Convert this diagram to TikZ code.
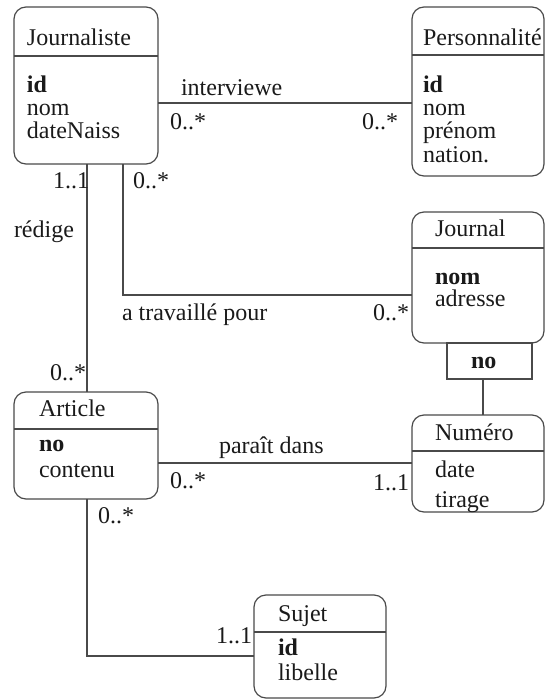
\documentclass[tikz,border=0pt]{standalone}
\usepackage{fontspec}
\setmainfont{Liberation Serif}
\definecolor{lc}{HTML}{4A4A4A}
\definecolor{tc}{HTML}{1A1A1A}
\begin{document}
\begin{tikzpicture}[x=1pt,y=-1pt,
  ent/.style={draw=lc, line width=1.2pt, rounded corners=12pt, inner sep=0pt, outer sep=0pt, anchor=north west},
  qualbox/.style={draw=lc, line width=1.2pt, inner sep=0pt, outer sep=0pt, anchor=north west},
  txt/.style={anchor=base west, inner sep=0pt, outer sep=0pt, font=\fontsize{24}{24}\selectfont, text=tc},
  ln/.style={draw=lc, line width=1.2pt}]
\useasboundingbox (0,0) rectangle (545,699);

% entities
\node[ent, minimum width=144pt, minimum height=157pt] (journ) at (14,7) {};
\node[ent, minimum width=132pt, minimum height=169pt] (perso) at (412,7) {};
\node[ent, minimum width=132pt, minimum height=131pt] (journal) at (412,212) {};
\node[ent, minimum width=132pt, minimum height=97pt] (numero) at (412,415) {};
\node[ent, minimum width=144pt, minimum height=107pt] (article) at (14,392) {};
\node[ent, minimum width=132pt, minimum height=103pt] (sujet) at (254,595) {};
\node[qualbox, minimum width=85pt, minimum height=36pt] (qual) at (447,343) {};

% header lines
\draw[ln] (journ.west |- 0,56) -- (journ.east |- 0,56);
\draw[ln] (perso.west |- 0,55) -- (perso.east |- 0,55);
\draw[ln] (journal.west |- 0,248) -- (journal.east |- 0,248);
\draw[ln] (numero.west |- 0,451) -- (numero.east |- 0,451);
\draw[ln] (article.west |- 0,429) -- (article.east |- 0,429);
\draw[ln] (sujet.west |- 0,632) -- (sujet.east |- 0,632);

% entity texts
\node[txt] (tJ) at (27,45) {Journaliste};
\node[txt] (tJ1) at (27,92) {\textbf{id}};
\node[txt] (tJ2) at (27,115) {nom};
\node[txt] (tJ3) at (27,138) {dateNaiss};

\node[txt] (tP) at (423,45) {Personnalité};
\node[txt] (tP1) at (423,92) {\textbf{id}};
\node[txt] (tP2) at (423,115) {nom};
\node[txt] (tP3) at (423,138) {prénom};
\node[txt] (tP4) at (423,162) {nation.};

\node[txt] (tN) at (435,236) {Journal};
\node[txt] (tN1) at (435,284) {\textbf{nom}};
\node[txt] (tN2) at (435,306) {adresse};

\node[txt] (tQ) at (471,368) {\textbf{no}};

\node[txt] (tU) at (435,440) {Numéro};
\node[txt] (tU1) at (435,477) {date};
\node[txt] (tU2) at (435,507) {tirage};

\node[txt] (tA) at (39,416) {Article};
\node[txt] (tA1) at (39,451) {\textbf{no}};
\node[txt] (tA2) at (39,477) {contenu};

\node[txt] (tS) at (278,621) {Sujet};
\node[txt] (tS1) at (278,655) {\textbf{id}};
\node[txt] (tS2) at (278,680) {libelle};

% connectors
\draw[ln] (journ.east |- 0,103) -- (perso.west |- 0,103);
\draw[ln] (journ.south -| 87,0) -- (article.north -| 87,0);
\draw[ln] (journ.south -| 123,0) |- (journal.west |- 0,295);
\draw[ln] (qual.south -| 483,0) -- (numero.north -| 483,0);
\draw[ln] (article.east |- 0,463) -- (numero.west |- 0,463);
\draw[ln] (article.south -| 87,0) |- (sujet.west |- 0,656);

% connector labels
\node[txt] (lInt) at (181,95) {interviewe};
\node[txt] (lInt1) at (170,129) {0..*};
\node[txt] (lInt2) at (362,129) {0..*};
\node[txt] (lRed0) at (53,188) {1..1};
\node[txt] (lTra0) at (133,188) {0..*};
\node[txt] (lRed) at (14,237) {rédige};
\node[txt] (lTra) at (122,320) {a travaillé pour};
\node[txt] (lTra1) at (373,320) {0..*};
\node[txt] (lRed1) at (50,380) {0..*};
\node[txt] (lPar) at (219,453) {paraît dans};
\node[txt] (lPar1) at (170,488) {0..*};
\node[txt] (lPar2) at (373,490) {1..1};
\node[txt] (lSuj0) at (98,523) {0..*};
\node[txt] (lSuj1) at (216,643) {1..1};
\end{tikzpicture}
\end{document}
